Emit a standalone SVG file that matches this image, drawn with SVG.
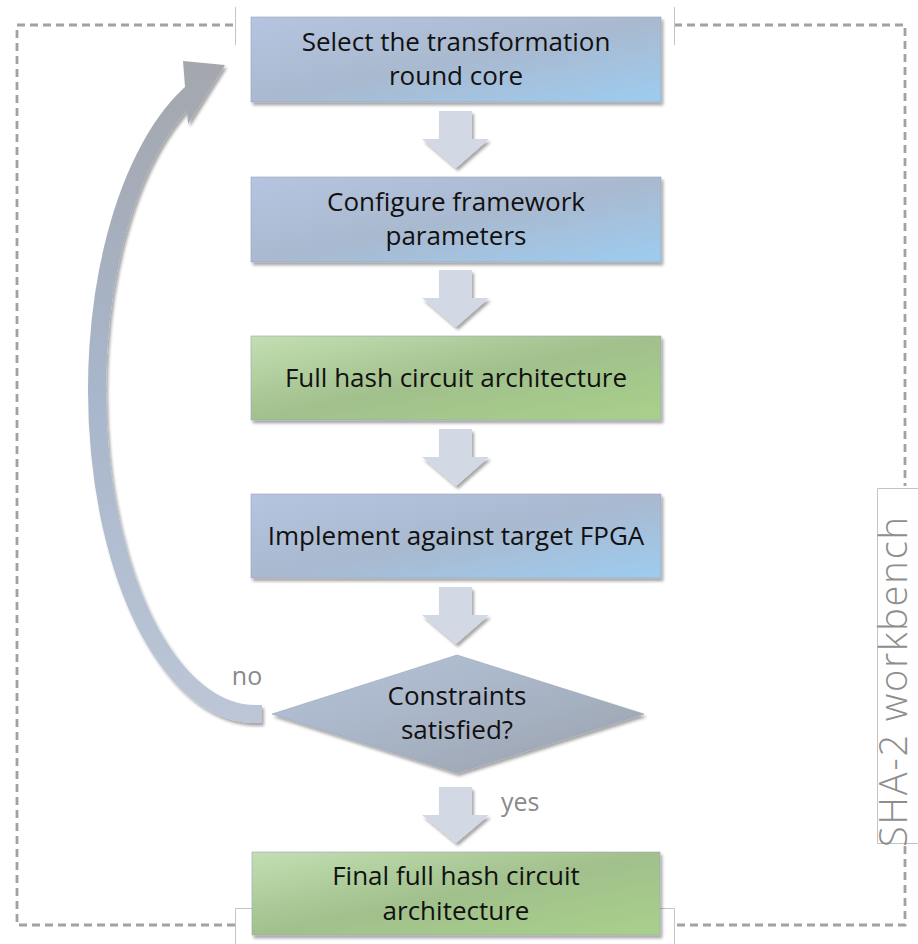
<svg xmlns="http://www.w3.org/2000/svg" width="918" height="944" viewBox="0 0 918 944">
  <style>
    .frame { fill: none; stroke: #a2a2a2; stroke-width: 2.8; stroke-dasharray: 8 5; }
    .hair { fill: none; stroke: #c4c4c4; stroke-width: 1; }
    .box { stroke: #9aa6b6; stroke-width: 0.6; filter: url(#shadow); }
    .step { fill: #d2d9e5; filter: url(#shadow); }
    .lbl { font-family: "Open Sans", "Liberation Sans", sans-serif; font-size: 26px; fill: #111; text-anchor: middle; }
    .note { font-family: "Open Sans", "Liberation Sans", sans-serif; font-size: 25px; fill: #8a8a8a; }
    .title { font-family: "Open Sans", "Liberation Sans", sans-serif; font-weight: 300; font-size: 38px; fill: #8e8e8e; }
  </style>
  <defs>
    <filter id="shadow" x="-10%" y="-10%" width="130%" height="140%">
      <feDropShadow dx="2" dy="3" stdDeviation="1.6" flood-color="#000" flood-opacity="0.35"/>
    </filter>
    <linearGradient id="blue" x1="0" y1="0" x2="1" y2="1">
      <stop offset="0" stop-color="#b5c5e1"/>
      <stop offset="0.5" stop-color="#a9b9cf"/>
      <stop offset="1" stop-color="#9dccf0"/>
    </linearGradient>
    <linearGradient id="green" x1="0" y1="0" x2="1" y2="1">
      <stop offset="0" stop-color="#c3dfb3"/>
      <stop offset="0.5" stop-color="#a1c08c"/>
      <stop offset="1" stop-color="#a8d18b"/>
    </linearGradient>
    <linearGradient id="gray" x1="0" y1="0" x2="1" y2="1">
      <stop offset="0" stop-color="#b7c5da"/>
      <stop offset="0.5" stop-color="#a8b4c6"/>
      <stop offset="1" stop-color="#99a0aa"/>
    </linearGradient>
    <linearGradient id="loop" gradientUnits="userSpaceOnUse" x1="0" y1="720" x2="0" y2="60">
      <stop offset="0" stop-color="#bcc6d6"/>
      <stop offset="0.5" stop-color="#a8b6cb"/>
      <stop offset="1" stop-color="#a4a7ad"/>
    </linearGradient>
  </defs>

  <!-- dashed workbench frame with label gaps -->
  <g id="frame">
    <path class="frame" d="M233,25 H17 V925 H235"/>
    <path class="frame" d="M674,25 H905 V486"/>
    <path class="frame" d="M905,846 V925 H674"/>
    <path class="hair" d="M235.5,7 V45 M674.5,7 V45"/>
    <path class="hair" d="M235.5,944 V908.5 H674.5 V944"/>
    <path class="hair" d="M918,488.5 H877.5 V843.5 H918"/>
    <text class="title" transform="translate(907,847) rotate(-90)" textLength="330" lengthAdjust="spacing">SHA-2 workbench</text>
  </g>

  <!-- connectors -->
  <g id="connectors">
    <polygon class="step" points="439,111 472,111 472,139 489,139 456,168 422,139 439,139"/>
    <polygon class="step" points="439,270 472,270 472,298 489,298 456,327 422,298 439,298"/>
    <polygon class="step" points="439,429 472,429 472,457 489,457 456,486 422,457 439,457"/>
    <polygon class="step" points="439,587 472,587 472,615 489,615 456,644 422,615 439,615"/>
    <polygon class="step" points="439,787 472,787 472,815 489,815 456,843 422,815 439,815"/>
    <g id="loop-back" filter="url(#shadow)">
      <path d="M262,714 H255 A158,324 0 0 1 194.5,90.7" fill="none" stroke="url(#loop)" stroke-width="18"/>
      <polygon points="183,61 225,65 188,124" fill="url(#loop)"/>
    </g>
    <text class="note" x="247" y="685" text-anchor="middle">no</text>
    <text class="note" x="501" y="811">yes</text>
  </g>

  <g id="select-core">
    <rect class="box" x="251" y="17" width="410" height="85" fill="url(#blue)"/>
    <text class="lbl" x="456" y="51">Select the transformation</text>
    <text class="lbl" x="456" y="85">round core</text>
  </g>

  <g id="configure">
    <rect class="box" x="251" y="177" width="410" height="85" fill="url(#blue)"/>
    <text class="lbl" x="456" y="211">Configure framework</text>
    <text class="lbl" x="456" y="245">parameters</text>
  </g>

  <g id="full-hash">
    <rect class="box" x="251" y="336" width="410" height="84" fill="url(#green)"/>
    <text class="lbl" x="456" y="387">Full hash circuit architecture</text>
  </g>

  <g id="implement">
    <rect class="box" x="251" y="494" width="410" height="84" fill="url(#blue)"/>
    <text class="lbl" x="456" y="545">Implement against target FPGA</text>
  </g>

  <g id="constraints">
    <polygon class="box" points="272,714 457,655 644,714 457,773" fill="url(#gray)"/>
    <text class="lbl" x="457" y="705">Constraints</text>
    <text class="lbl" x="457" y="739">satisfied?</text>
  </g>

  <g id="final">
    <rect class="box" x="252" y="852" width="408" height="83" fill="url(#green)"/>
    <text class="lbl" x="456" y="885">Final full hash circuit</text>
    <text class="lbl" x="456" y="920">architecture</text>
  </g>
</svg>
